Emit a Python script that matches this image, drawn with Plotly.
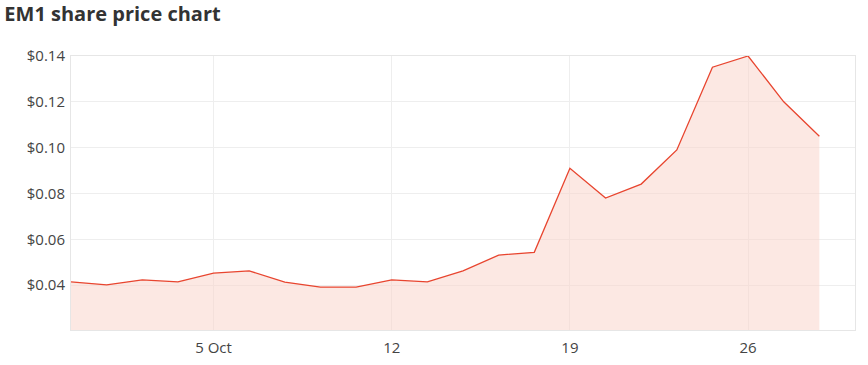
import plotly.graph_objects as go

dates = ["2020-09-29", "2020-09-30", "2020-10-01", "2020-10-02",
         "2020-10-05", "2020-10-06", "2020-10-07", "2020-10-08", "2020-10-09",
         "2020-10-12", "2020-10-13", "2020-10-14", "2020-10-15", "2020-10-16",
         "2020-10-19", "2020-10-20", "2020-10-21", "2020-10-22", "2020-10-23",
         "2020-10-26", "2020-10-27", "2020-10-28"]
prices = [0.0414, 0.0401, 0.0423, 0.0414,
          0.0452, 0.0462, 0.0413, 0.0391, 0.0391,
          0.0423, 0.0414, 0.0462, 0.0531, 0.0543,
          0.091, 0.078, 0.0841, 0.099, 0.1351,
          0.140, 0.120, 0.105]
tick_dates = ["2020-10-05", "2020-10-12", "2020-10-19", "2020-10-26"]
tick_labels = ["5 Oct", "12", "19", "26"]
y_ticks = [0.04, 0.06, 0.08, 0.10, 0.12, 0.14]
y_labels = ["$0.04", "$0.06", "$0.08", "$0.10", "$0.12", "$0.14"]

fig = go.Figure()
fig.add_trace(go.Scatter(
    x=dates, y=prices, mode="lines",
    line=dict(color="#e8452f", width=1.3),
    fill="tozeroy", fillcolor="rgba(250,210,200,0.5)",
    hoverinfo="skip",
))

fig.update_layout(
    width=868, height=365,
    margin=dict(l=71, r=13, t=56, b=35),
    paper_bgcolor="white", plot_bgcolor="white",
    showlegend=False,
    title=dict(text="<b>EM1 share price chart</b>", x=0.005, xanchor="left",
               y=0.962, yanchor="middle",
               font=dict(family="Open Sans", size=20, color="#333333")),
    font=dict(family="Open Sans", color="#444444"),
)
fig.update_xaxes(
    type="date",
    range=["2020-09-29", "2020-10-29"],
    rangebreaks=[dict(bounds=["sat", "mon"])],
    tickvals=tick_dates, ticktext=tick_labels,
    tickfont=dict(size=15, color="#444444"),
    showgrid=True, gridcolor="#eeeeee", gridwidth=1,
    showline=True, linecolor="#e6e6e6", linewidth=1, mirror=True,
    ticks="outside", ticklen=4, tickcolor="rgba(0,0,0,0)", zeroline=False,
    automargin=False,
)
fig.update_yaxes(
    range=[0.0204, 0.14],
    tickvals=y_ticks, ticktext=y_labels,
    tickfont=dict(size=15, color="#444444"),
    showgrid=True, gridcolor="#eeeeee", gridwidth=1,
    showline=True, linecolor="#e6e6e6", linewidth=1, mirror=True,
    ticks="outside", ticklen=2, tickcolor="rgba(0,0,0,0)", zeroline=False,
    automargin=False,
)

fig.write_html("out.html")
